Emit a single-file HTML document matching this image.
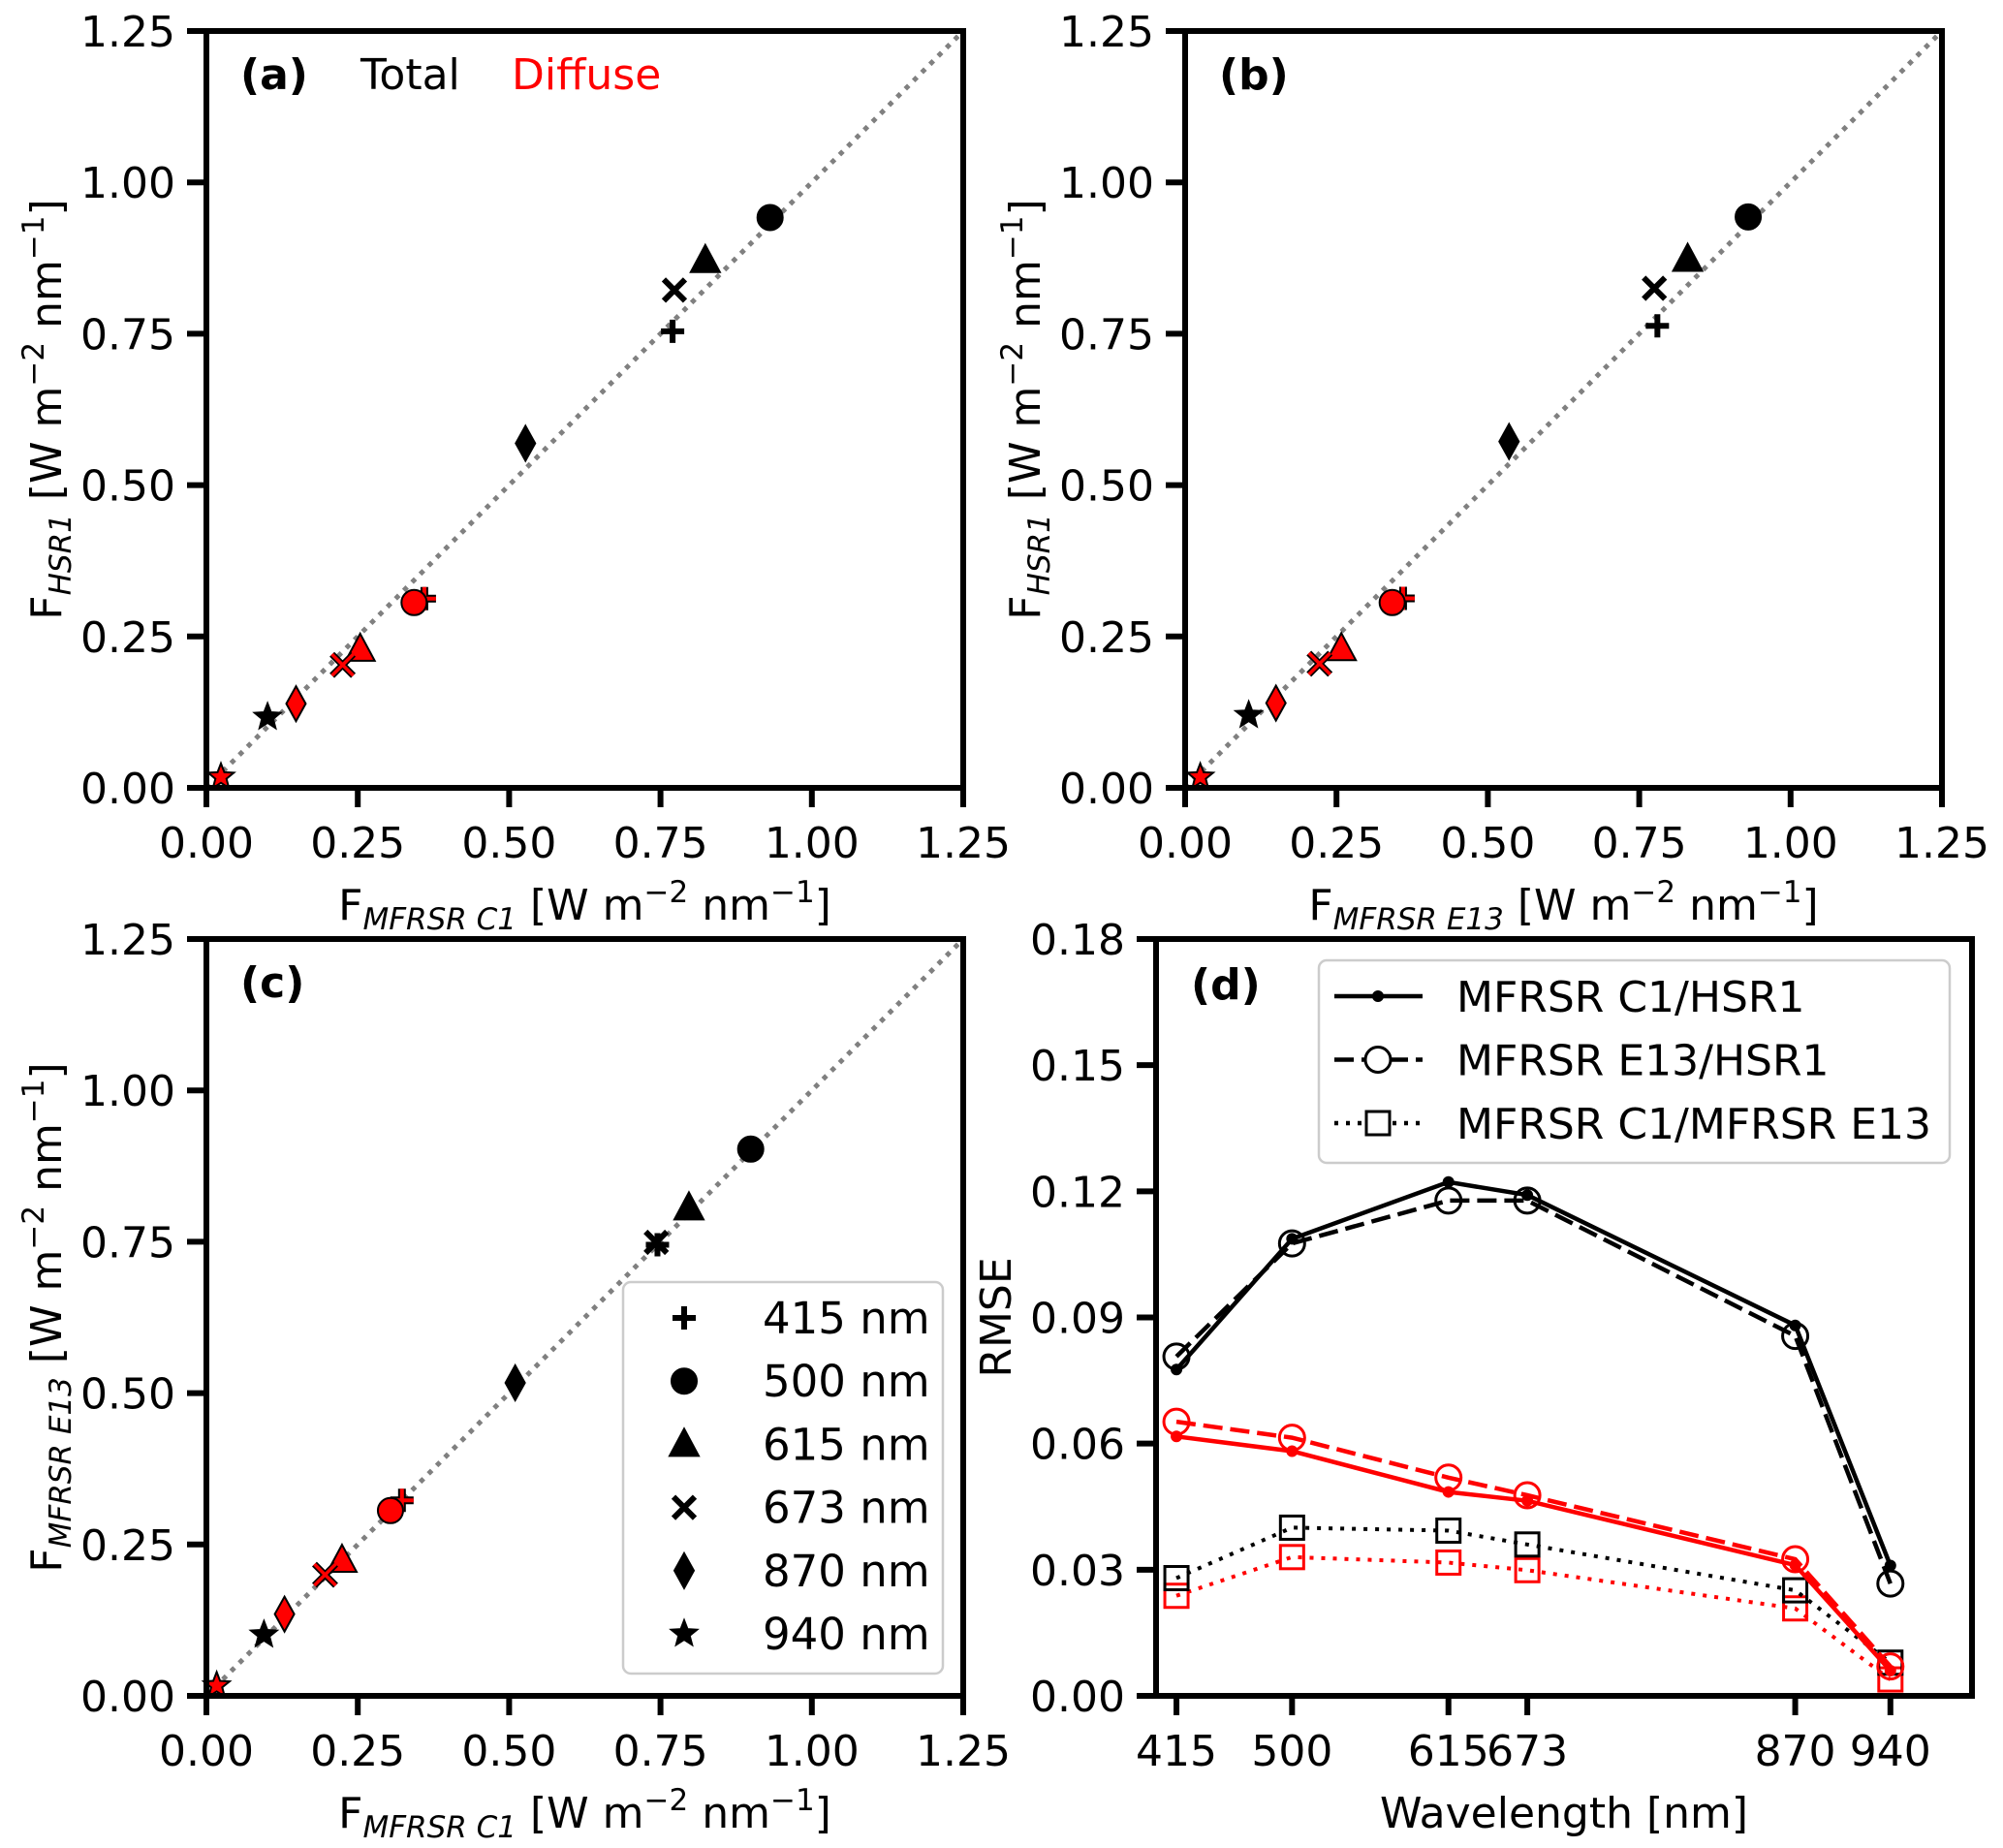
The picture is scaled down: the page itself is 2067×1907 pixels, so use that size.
<!DOCTYPE html>
<html><head><meta charset="utf-8"><style>
html,body{margin:0;padding:0;background:#fff}
svg{display:block;font-family:"DejaVu Sans","Liberation Sans",sans-serif}
</style></head><body>
<svg id="fig" width="2067" height="1907" viewBox="0 0 2067 1907" xmlns="http://www.w3.org/2000/svg"></svg>
<script>
// ---- data ----
const markerTypes = ["plus","circle","triangle","x","diamond","star"];
const wavelengthLabels = ["415 nm","500 nm","615 nm","673 nm","870 nm","940 nm"];
const scatterTicks = [0,0.25,0.5,0.75,1.0,1.25];
const scatterTickLabels = ["0.00","0.25","0.50","0.75","1.00","1.25"];
// panel a
const aTotalX = [0.770,0.931,0.824,0.773,0.527,0.101];
const aTotalY = [0.754,0.942,0.871,0.822,0.569,0.117];
const aDiffX = [0.360,0.343,0.254,0.225,0.148,0.024];
const aDiffY = [0.3125,0.306,0.229,0.203,0.139,0.018];
// panel b
const bTotalX = [0.780,0.930,0.830,0.775,0.535,0.105];
const bTotalY = [0.763,0.943,0.873,0.825,0.572,0.120];
const bDiffX = [0.360,0.342,0.258,0.222,0.150,0.025];
const bDiffY = [0.313,0.306,0.230,0.205,0.140,0.018];
// panel c
const cTotalX = [0.745,0.899,0.797,0.743,0.510,0.095];
const cTotalY = [0.745,0.903,0.806,0.749,0.517,0.101];
const cDiffX = [0.323,0.304,0.224,0.196,0.129,0.017];
const cDiffY = [0.323,0.306,0.224,0.200,0.135,0.017];
// panel d
const wavelengths = [415,500,615,673,870,940];
const rmseTicks = [0,0.03,0.06,0.09,0.12,0.15,0.18];
const rmseTickLabels = ["0.00","0.03","0.06","0.09","0.12","0.15","0.18"];
const totC1Hsr = [0.0776,0.1087,0.1222,0.1191,0.0881,0.0310];
const totE13Hsr = [0.0807,0.1076,0.1178,0.1178,0.0856,0.0267];
const totC1E13 = [0.0280,0.0400,0.0393,0.0360,0.0251,0.0079];
const difC1Hsr = [0.0617,0.0582,0.0485,0.0464,0.0311,0.0060];
const difE13Hsr = [0.0652,0.0614,0.0519,0.0477,0.0325,0.0070];
const difC1E13 = [0.0238,0.0330,0.0317,0.0299,0.0208,0.0039];

const NS="http://www.w3.org/2000/svg";
const svg=document.getElementById('fig');
function mk(tag,attrs,parent){const e=document.createElementNS(NS,tag);for(const k in attrs)e.setAttribute(k,attrs[k]);(parent||svg).appendChild(e);return e;}
function txt(x,y,s,attrs,parent){const t=mk('text',Object.assign({x:x,y:y,'font-size':44,fill:'#000'},attrs||{}),parent);t.textContent=s;return t;}

function marker(g,type,cx,cy,fill,edge){
  let e;
  if(type==="plus"){
    e=mk('path',{d:`M${cx-12},${cy}H${cx+12}M${cx},${cy-12}V${cy+12}`,stroke:'#000','stroke-width':fill==='red'?8:6,fill:'none'},g);
    if(fill==='red'){mk('path',{d:`M${cx-12},${cy}H${cx+12}M${cx},${cy-12}V${cy+12}`,stroke:'red','stroke-width':4,fill:'none'},g);}
  }else if(type==="circle"){
    e=mk('circle',{cx:cx,cy:cy,r:13,fill:fill,stroke:'#000','stroke-width':2},g);
  }else if(type==="triangle"){
    e=mk('path',{d:`M${cx},${cy-16}L${cx+15},${cy+12}L${cx-15},${cy+12}Z`,fill:fill,stroke:'#000','stroke-width':2},g);
  }else if(type==="x"){
    e=mk('path',{d:`M${cx-11},${cy-11}L${cx+11},${cy+11}M${cx-11},${cy+11}L${cx+11},${cy-11}`,stroke:'#000','stroke-width':fill==='red'?7:6,fill:'none'},g);
    if(fill==='red'){mk('path',{d:`M${cx-11},${cy-11}L${cx+11},${cy+11}M${cx-11},${cy+11}L${cx+11},${cy-11}`,stroke:'red','stroke-width':3.5,fill:'none'},g);}
  }else if(type==="diamond"){
    e=mk('path',{d:`M${cx},${cy-18}L${cx+10},${cy}L${cx},${cy+18}L${cx-10},${cy}Z`,fill:fill,stroke:'#000','stroke-width':2},g);
  }else if(type==="star"){
    let p='';for(let i=0;i<10;i++){const r=i%2?6:14;const a=-Math.PI/2+i*Math.PI/5;p+=(i?'L':'M')+(cx+r*Math.cos(a)).toFixed(1)+','+(cy+r*Math.sin(a)).toFixed(1);}
    e=mk('path',{d:p+'Z',fill:fill,stroke:'#000','stroke-width':2,'stroke-linejoin':'miter'},g);
  }
  return e;
}

function axesFrame(g,L,T,R,B){
  mk('rect',{x:L,y:T,width:R-L,height:B-T,fill:'none',stroke:'#000','stroke-width':6},g);
}

function scatterPanel(id,L,T,R,B,tx,ty,dx,dy,letter,xlab,ylab){
  const g=mk('g',{});
  
  
  const sx=v=>L+v/1.25*(R-L), sy=v=>B-v/1.25*(B-T);
  const d=mk('line',{x1:sx(0),y1:sy(0),x2:sx(1.25),y2:sy(1.25),stroke:'#808080','stroke-width':5,'stroke-dasharray':'5 7'},g);
  
  
  scatterTicks.forEach((v,i)=>{
    mk('line',{x1:sx(v),y1:B,x2:sx(v),y2:B+20,stroke:'#000','stroke-width':6},g);
    const xl=txt(sx(v),B+72,scatterTickLabels[i],{'text-anchor':'middle'},g);
    
    
    mk('line',{x1:L-20,y1:sy(v),x2:L,y2:sy(v),stroke:'#000','stroke-width':6},g);
    const yl=txt(L-32,sy(v)+16,scatterTickLabels[i],{'text-anchor':'end'},g);
    
    
  });
  markerTypes.forEach((m,i)=>{
    const e=marker(g,m,sx(tx[i]),sy(ty[i]),'#000');
    
    
  });
  markerTypes.forEach((m,i)=>{
    const e=marker(g,m,sx(dx[i]),sy(dy[i]),'red');
    
    
  });
  axesFrame(g,L,T,R,B);
  const pl=txt(L+35,T+60,letter,{'font-weight':'bold'},g);
  
  
  const xt=mk('text',{x:(L+R)/2,y:B+136,'text-anchor':'middle','font-size':44},g);
  
  
  xt.innerHTML='F<tspan font-size="31" font-style="italic" dy="10">'+xlab+'</tspan><tspan dy="-10"> [W m</tspan><tspan font-size="31" dy="-18">−2</tspan><tspan dy="18"> nm</tspan><tspan font-size="31" dy="-18">−1</tspan><tspan dy="18">]</tspan>';
  const yt=mk('text',{x:0,y:0,'text-anchor':'middle','font-size':44,transform:`translate(${L-150},${(T+B)/2}) rotate(-90)`},g);
  
  
  yt.innerHTML='F<tspan font-size="31" font-style="italic" dy="10">'+ylab+'</tspan><tspan dy="-10"> [W m</tspan><tspan font-size="31" dy="-18">−2</tspan><tspan dy="18"> nm</tspan><tspan font-size="31" dy="-18">−1</tspan><tspan dy="18">]</tspan>';
  return g;
}

const ga=scatterPanel('a',213,32,994,813,aTotalX,aTotalY,aDiffX,aDiffY,'(a)','MFRSR C1','HSR1');
const t1=txt(372,92,'Total',{},ga);


const t2=txt(528,92,'Diffuse',{fill:'red'},ga);


scatterPanel('b',1223,32,2004,813,bTotalX,bTotalY,bDiffX,bDiffY,'(b)','MFRSR E13','HSR1');
const gc=scatterPanel('c',213,969,994,1750,cTotalX,cTotalY,cDiffX,cDiffY,'(c)','MFRSR C1','MFRSR E13');
const lg=mk('g',{},gc);


mk('rect',{x:643,y:1323,width:330,height:404,rx:8,fill:'#fff','fill-opacity':0.8,stroke:'#ccc','stroke-width':2.5},lg);
markerTypes.forEach((m,i)=>{
  const y=1360+i*65.2;
  const e=marker(lg,m,706,y,'#000');
  
  
  const t=txt(787,y+16,wavelengthLabels[i],{'font-size':45},lg);
  
  
});

(function(){
  const L=1193,T=969,R=2035,B=1750;
  const g=mk('g',{});
  
  
  const sx=v=>L+(v-400)/600*(R-L), sy=v=>B-v/0.18*(B-T);
  rmseTicks.forEach((v,i)=>{
    mk('line',{x1:L-20,y1:sy(v),x2:L,y2:sy(v),stroke:'#000','stroke-width':6},g);
    const t=txt(L-32,sy(v)+16,rmseTickLabels[i],{'text-anchor':'end'},g);
    
    
  });
  wavelengths.forEach(w=>{
    mk('line',{x1:sx(w),y1:B,x2:sx(w),y2:B+20,stroke:'#000','stroke-width':6},g);
    const t=txt(sx(w),B+72,String(w),{'text-anchor':'middle'},g);
    
    
  });
  function series(vals,color,dash,mtype,name){
    const pts=vals.map((v,i)=>sx(wavelengths[i]).toFixed(1)+','+sy(v).toFixed(1)).join(' ');
    const pl=mk('polyline',{points:pts,fill:'none',stroke:color,'stroke-width':dash==='dot'?4:4.5,'stroke-dasharray':dash==='solid'?'none':(dash==='dash'?'20 8':'4 8')},g);
    
    
    vals.forEach((v,i)=>{
      const cx=sx(wavelengths[i]),cy=sy(v);let e;
      if(mtype==='dot')e=mk('circle',{cx:cx,cy:cy,r:6,fill:color},g);
      else if(mtype==='open')e=mk('circle',{cx:cx,cy:cy,r:13,fill:'none',stroke:color,'stroke-width':3},g);
      else e=mk('rect',{x:cx-12,y:cy-12,width:24,height:24,fill:'none',stroke:color,'stroke-width':3},g);
      
      
    });
  }
  series(difC1E13,'red','dot','square','diffuse-c1-e13');
  series(totC1E13,'#000','dot','square','total-c1-e13');
  series(difE13Hsr,'red','dash','open','diffuse-e13-hsr1');
  series(difC1Hsr,'red','solid','dot','diffuse-c1-hsr1');
  series(totE13Hsr,'#000','dash','open','total-e13-hsr1');
  series(totC1Hsr,'#000','solid','dot','total-c1-hsr1');
  axesFrame(g,L,T,R,B);
  const pl=txt(1229,1031,'(d)',{'font-weight':'bold'},g);
  
  
  const lg=mk('g',{},g);
  
  
  mk('rect',{x:1361,y:991,width:651,height:209,rx:8,fill:'#fff','fill-opacity':0.8,stroke:'#ccc','stroke-width':2.5},lg);
  const labs=['MFRSR C1/HSR1','MFRSR E13/HSR1','MFRSR C1/MFRSR E13'];
  const dashes=['none','20 8','4 8'];
  labs.forEach((s,i)=>{
    const y=1028+i*65.5;
    mk('line',{x1:1377,y1:y,x2:1468,y2:y,stroke:'#000','stroke-width':4.5,'stroke-dasharray':dashes[i]},lg);
    if(i===0)mk('circle',{cx:1422,cy:y,r:6,fill:'#000'},lg);
    else if(i===1)mk('circle',{cx:1422,cy:y,r:13,fill:'#fff',stroke:'#000','stroke-width':3},lg);
    else mk('rect',{x:1410,y:y-12,width:24,height:24,fill:'#fff',stroke:'#000','stroke-width':3},lg);
    const t=txt(1503,y+16,s,{'font-size':44},lg);
    
    
  });
  const xt=txt((L+R)/2,B+136,'Wavelength [nm]',{'text-anchor':'middle'},g);
  
  
  const yt=txt(0,0,'RMSE',{'text-anchor':'middle',transform:`translate(${L-150},${(T+B)/2}) rotate(-90)`},g);
  
  
})();
</script>
</body></html>
